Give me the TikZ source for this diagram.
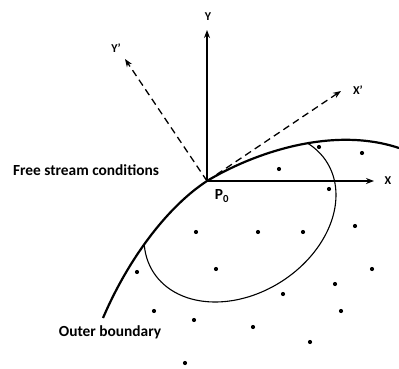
\documentclass[tikz,border=0pt]{standalone}
\usepackage{fontspec}
\setmainfont{Carlito}
\usetikzlibrary{arrows.meta}
\tikzset{
  axis/.style={line width=1.3pt,-{Stealth[length=8pt,width=6pt]}},
  dashaxis/.style={line width=1.3pt,dash pattern=on 7pt off 4.5pt,-{Stealth[length=8pt,width=6pt]}},
  bound/.style={line width=2.2pt},
  ell/.style={line width=1.1pt},
  pt/.style={circle,fill=black,inner sep=0pt,minimum size=4.2pt},
  lbl/.style={font=\bfseries\fontsize{15.4}{17}\selectfont,inner sep=0pt},
  axl/.style={font=\bfseries\fontsize{12}{14}\selectfont,inner sep=0pt}
}
\begin{document}
\begin{tikzpicture}[x=1pt,y=-1pt]
\useasboundingbox (0,0) rectangle (399,369);
\coordinate (P) at (207,181);
\coordinate (Ytip) at (207,30);
\coordinate (Xtip) at (374,181);
\coordinate (Yptip) at (125,59);
\coordinate (Xptip) at (341,91);
% boundary
\draw[bound] (103,318) .. controls (130,255) and (170,205) .. (P)
  .. controls (250,155) and (330,125) .. (399,148);
% ellipse clipped
\begin{scope}
\clip (103,318) .. controls (130,255) and (170,205) .. (207,181)
  .. controls (250,155) and (330,125) .. (399,148) -- (399,369) -- (103,369) -- cycle;
\draw[ell] plot[domain=0:360,samples=120,smooth cycle,variable=\t] ({240+96*cos(\t)},{217+85*cos(\t-105)});
\end{scope}
% axes
\draw[axis] (P) -- (Ytip);
\draw[axis] (P) -- (Xtip);
\draw[dashaxis] (P) -- (Yptip);
\draw[dashaxis] (P) -- (Xptip);
% labels
\node[axl] (ly) at (208,17) {Y};
\node[axl] (lx) at (388,181) {X};
\node[axl] (lyp) at (116,48) {Y'};
\node[axl] (lxp) at (358,90) {X'};
\node[lbl] (p0) at (222,196) {P\textsubscript{0}};
\node[lbl] (fs) at (86,170) {Free stream conditions};
\node[lbl] (ob) at (110,332) {Outer boundary};
% dots
\foreach \i/\x/\y in {1/319/147,2/362/153,3/279/169,4/329/189,5/258/232,6/303/232,7/355/226,8/216/269,9/372/269,10/335/284,11/283/294,12/341/311,13/253/327,14/310/342,15/196/232,16/137/272,17/154/311,18/194/320,19/185/363}
  \node[pt] (d\i) at (\x,\y) {};
\end{tikzpicture}
\end{document}
